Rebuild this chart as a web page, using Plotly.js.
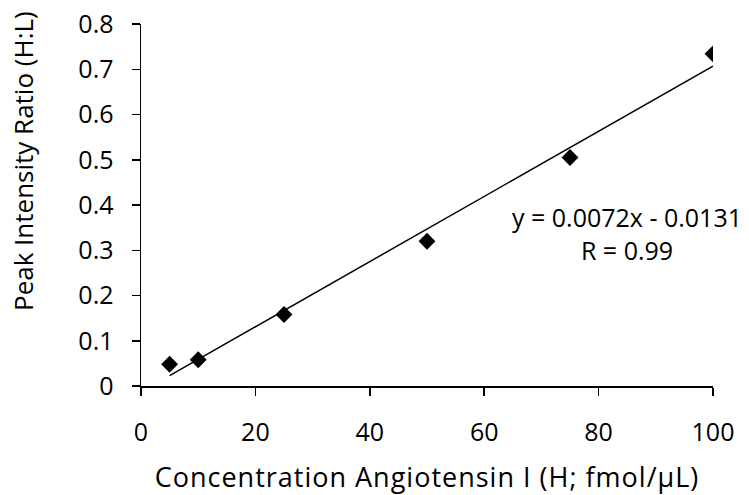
<!DOCTYPE html>
<html>
<head>
<meta charset="utf-8">
<script src="https://cdn.plot.ly/plotly-3.0.1.min.js"></script>
<style>
  html, body { margin: 0; padding: 0; background: #fff; }
  #chart { width: 749px; height: 495px; }
  #chart .xtitle { letter-spacing: 1px; }
</style>
</head>
<body>
<div id="chart"></div>
<script>
// Measured standards: concentration vs. heavy/light peak intensity ratio
const concentration = [5, 10, 25, 50, 75, 100];
const peakRatio = [0.048, 0.058, 0.158, 0.320, 0.505, 0.734];

// Linear fit reported on the chart
const slope = 0.0072;
const intercept = -0.0131;
const fitX = [5, 100];
const fitY = fitX.map(x => slope * x + intercept);

const xTicks = [0, 20, 40, 60, 80, 100];
const yTicks = [0, 0.1, 0.2, 0.3, 0.4, 0.5, 0.6, 0.7, 0.8];
const yTickText = ['0', '0.1', '0.2', '0.3', '0.4', '0.5', '0.6', '0.7', '0.8'];

const xTitle = 'Concentration Angiotensin I (H; fmol/μL)';
const yTitle = 'Peak Intensity Ratio (H:L)';

const fontFamily = '"Open Sans", "Noto Sans", sans-serif';
const fontSize = 25;

const traces = [
  {
    x: fitX, y: fitY, mode: 'lines', type: 'scatter',
    line: { color: '#000', width: 1.5 },
    hoverinfo: 'skip', showlegend: false
  },
  {
    x: concentration, y: peakRatio, mode: 'markers', type: 'scatter',
    marker: { symbol: 'diamond', size: 13, color: '#000' },
    showlegend: false
  }
];

const axisCommon = {
  showgrid: false, zeroline: false,
  showline: true, linecolor: '#000', linewidth: 1.5,
  ticks: 'outside', ticklen: 8, tickwidth: 1.5, tickcolor: '#000',
  tickfont: { family: fontFamily, size: fontSize, color: '#000' },
  fixedrange: true
};

const layout = {
  width: 749, height: 495,
  margin: { l: 141, r: 36, t: 24, b: 109 },
  paper_bgcolor: '#fff', plot_bgcolor: '#fff',
  font: { family: fontFamily, color: '#000' },
  xaxis: Object.assign({}, axisCommon, {
    range: [0, 100], tickmode: 'array', tickvals: xTicks,
    ticklabelstandoff: 15,
    title: { text: xTitle, font: { family: fontFamily, size: 27, color: '#000' }, standoff: 21 }
  }),
  yaxis: Object.assign({}, axisCommon, {
    range: [0, 0.8], tickmode: 'array', tickvals: yTicks, ticktext: yTickText,
    ticklabelstandoff: 13
  }),
  annotations: [
    // vertical axis title, set a little above the middle of the axis
    {
      x: -0.2063, y: 0.6215, xref: 'paper', yref: 'paper', showarrow: false,
      xanchor: 'center', yanchor: 'middle', textangle: -90,
      text: yTitle, font: { family: fontFamily, size: 26, color: '#000' }
    },
    // fitted-line equation
    {
      x: 85.05, y: 0.337, xref: 'x', yref: 'y', showarrow: false,
      text: 'y = 0.0072x - 0.0131<br>R = 0.99', align: 'center',
      font: { family: fontFamily, size: fontSize, color: '#000' }
    }
  ]
};

Plotly.newPlot('chart', traces, layout, { displayModeBar: false, staticPlot: true });
</script>
</body>
</html>
